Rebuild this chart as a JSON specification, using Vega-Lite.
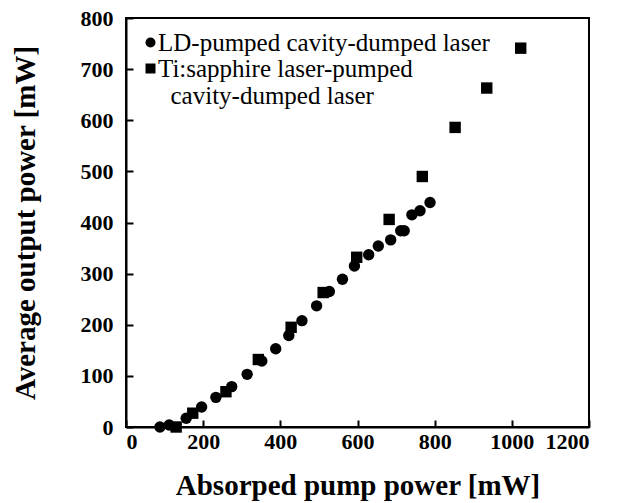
{
  "$schema": "https://vega.github.io/schema/vega-lite/v6.json",
  "width": 463,
  "height": 409,
  "autosize": {"type": "none"},
  "padding": {"left": 126, "top": 18, "right": 35, "bottom": 76},
  "background": "white",
  "config": {
    "view": {"stroke": "black", "strokeWidth": 2},
    "font": "Liberation Serif",
    "axis": {
      "grid": false,
      "domainColor": "black",
      "domainWidth": 2,
      "tickColor": "black",
      "tickWidth": 2,
      "tickSize": -7,
      "labelFont": "Liberation Serif",
      "labelFontWeight": "bold",
      "labelFontSize": 22,
      "labelColor": "black",
      "titleFont": "Liberation Serif",
      "titleFontWeight": "bold",
      "titleFontSize": 29,
      "titleColor": "black"
    }
  },
  "data": {
    "values": [
      {"x": 88, "y": 0, "series": "LD-pumped cavity-dumped laser"},
      {"x": 112, "y": 4, "series": "LD-pumped cavity-dumped laser"},
      {"x": 156, "y": 17, "series": "LD-pumped cavity-dumped laser"},
      {"x": 196, "y": 39, "series": "LD-pumped cavity-dumped laser"},
      {"x": 233, "y": 58, "series": "LD-pumped cavity-dumped laser"},
      {"x": 274, "y": 79, "series": "LD-pumped cavity-dumped laser"},
      {"x": 314, "y": 103, "series": "LD-pumped cavity-dumped laser"},
      {"x": 352, "y": 129, "series": "LD-pumped cavity-dumped laser"},
      {"x": 388, "y": 153, "series": "LD-pumped cavity-dumped laser"},
      {"x": 422, "y": 179, "series": "LD-pumped cavity-dumped laser"},
      {"x": 456, "y": 208, "series": "LD-pumped cavity-dumped laser"},
      {"x": 494, "y": 237, "series": "LD-pumped cavity-dumped laser"},
      {"x": 527, "y": 265, "series": "LD-pumped cavity-dumped laser"},
      {"x": 561, "y": 289, "series": "LD-pumped cavity-dumped laser"},
      {"x": 592, "y": 315, "series": "LD-pumped cavity-dumped laser"},
      {"x": 629, "y": 337, "series": "LD-pumped cavity-dumped laser"},
      {"x": 654, "y": 354, "series": "LD-pumped cavity-dumped laser"},
      {"x": 686, "y": 366, "series": "LD-pumped cavity-dumped laser"},
      {"x": 712, "y": 384, "series": "LD-pumped cavity-dumped laser"},
      {"x": 721, "y": 384, "series": "LD-pumped cavity-dumped laser"},
      {"x": 741, "y": 415, "series": "LD-pumped cavity-dumped laser"},
      {"x": 762, "y": 423, "series": "LD-pumped cavity-dumped laser"},
      {"x": 788, "y": 439, "series": "LD-pumped cavity-dumped laser"},
      {"x": 130, "y": 0, "series": "Ti:sapphire laser-pumped cavity-dumped laser"},
      {"x": 173, "y": 27, "series": "Ti:sapphire laser-pumped cavity-dumped laser"},
      {"x": 259, "y": 69, "series": "Ti:sapphire laser-pumped cavity-dumped laser"},
      {"x": 343, "y": 132, "series": "Ti:sapphire laser-pumped cavity-dumped laser"},
      {"x": 428, "y": 195, "series": "Ti:sapphire laser-pumped cavity-dumped laser"},
      {"x": 511, "y": 263, "series": "Ti:sapphire laser-pumped cavity-dumped laser"},
      {"x": 598, "y": 332, "series": "Ti:sapphire laser-pumped cavity-dumped laser"},
      {"x": 682, "y": 406, "series": "Ti:sapphire laser-pumped cavity-dumped laser"},
      {"x": 768, "y": 490, "series": "Ti:sapphire laser-pumped cavity-dumped laser"},
      {"x": 853, "y": 586, "series": "Ti:sapphire laser-pumped cavity-dumped laser"},
      {"x": 935, "y": 663, "series": "Ti:sapphire laser-pumped cavity-dumped laser"},
      {"x": 1023, "y": 741, "series": "Ti:sapphire laser-pumped cavity-dumped laser"}
    ]
  },
  "mark": {"type": "point", "filled": true, "opacity": 1, "size": 130, "color": "black"},
  "encoding": {
    "x": {
      "field": "x",
      "type": "quantitative",
      "scale": {"domain": [0, 1200], "nice": false, "zero": false},
      "axis": {"values": [0, 200, 400, 600, 800, 1000, 1200], "format": "d", "title": "Absorped pump power [mW]", "labelPadding": 11, "titlePadding": 19}
    },
    "y": {
      "field": "y",
      "type": "quantitative",
      "scale": {"domain": [0, 800], "nice": false, "zero": false},
      "axis": {"values": [0, 100, 200, 300, 400, 500, 600, 700, 800], "format": "d", "title": "Average output power [mW]", "labelPadding": 20, "titlePadding": 40}
    },
    "shape": {
      "field": "series",
      "type": "nominal",
      "scale": {"domain": ["LD-pumped cavity-dumped laser", "Ti:sapphire laser-pumped cavity-dumped laser"], "range": ["circle", "square"]},
      "legend": {
        "title": null,
        "orient": "top-left",
        "offset": 12,
        "labelFont": "Liberation Serif",
        "labelFontSize": 25,
        "labelColor": "black",
        "labelLimit": 0,
        "symbolSize": 100,
        "symbolFillColor": "black",
        "symbolStrokeColor": "black",
        "symbolOpacity": 1,
        "rowPadding": 0,
        "labelOffset": -5,
        "labelExpr": "datum.label == 'Ti:sapphire laser-pumped cavity-dumped laser' ? ['Ti:sapphire laser-pumped', '\u200b\u00a0\u00a0cavity-dumped laser'] : datum.label"
      }
    }
  }
}
